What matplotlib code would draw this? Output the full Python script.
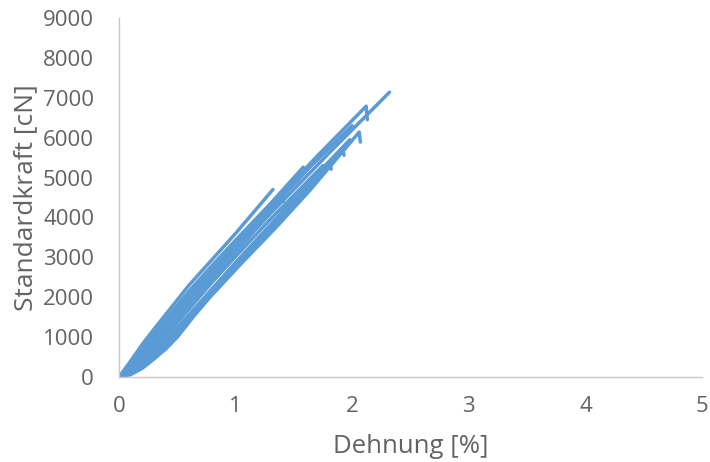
import matplotlib
matplotlib.use("Agg")
import matplotlib.pyplot as plt

# ---- data ----
x_ticks = [0, 1, 2, 3, 4, 5]
y_ticks = [0, 1000, 2000, 3000, 4000, 5000, 6000, 7000, 8000, 9000]

strain_A = [0, 0.1, 0.2, 0.3, 0.45, 0.6, 0.8, 1.0, 1.32]
force_A = [0, 400, 820, 1200, 1750, 2300, 2950, 3600, 4700]

strain_B = [0, 0.1, 0.2, 0.3, 0.45, 0.6, 0.8, 1.0, 1.3, 1.58]
force_B = [0, 330, 720, 1080, 1620, 2150, 2800, 3430, 4350, 5260]

strain_C = [0, 0.1, 0.2, 0.3, 0.45, 0.6, 0.8, 1.0, 1.3, 1.7, 2.12, 2.13]
force_C = [0, 280, 640, 1000, 1530, 2050, 2700, 3330, 4300, 5540, 6790, 6450]

strain_D = [0, 0.1, 0.2, 0.3, 0.45, 0.6, 0.8, 1.0, 1.3, 1.8, 2.32]
force_D = [0, 200, 500, 850, 1380, 1900, 2550, 3170, 4100, 5610, 7140]

strain_E = [0, 0.1, 0.2, 0.3, 0.4, 0.5, 0.635, 0.78, 1.06, 1.35, 1.64, 2.06, 2.07]
force_E = [0, 60, 220, 450, 700, 1000, 1500, 2000, 2880, 3760, 4690, 6140, 5890]

strain_F = [0, 0.1, 0.2, 0.3, 0.4, 0.5, 0.65, 0.8, 1.05, 1.35, 1.65, 1.92, 1.93]
force_F = [0, 90, 280, 530, 800, 1100, 1600, 2100, 2930, 3850, 4800, 5690, 5560]

strain_G = [0, 0.1, 0.2, 0.3, 0.4, 0.5, 0.65, 0.8, 1.05, 1.35, 1.6, 1.81, 1.82]
force_G = [0, 120, 330, 600, 880, 1190, 1680, 2170, 2990, 3950, 4740, 5360, 5210]

strain_H = [0, 0.1, 0.2, 0.3, 0.45, 0.6, 0.8, 1.0, 1.2, 1.40, 1.41]
force_H = [0, 180, 450, 780, 1300, 1820, 2480, 3120, 3800, 4510, 4400]

strain_I = [0, 0.1, 0.2, 0.3, 0.45, 0.6, 0.8, 1.0, 1.3, 1.75]
force_I = [0, 150, 400, 700, 1200, 1700, 2380, 3020, 3960, 5300]

strain_J = [0, 0.1, 0.2, 0.3, 0.45, 0.6, 0.8, 1.0, 1.3, 1.65, 1.98]
force_J = [0, 110, 320, 600, 1080, 1560, 2220, 2870, 3820, 4940, 5950]

strain_K = [0, 0.1, 0.2, 0.3, 0.45, 0.6, 0.8, 1.0, 1.3, 1.65, 2.0]
force_K = [0, 240, 560, 900, 1420, 1950, 2600, 3250, 4200, 5300, 6300]

strain_L = [0, 0.1, 0.2, 0.3, 0.45, 0.6, 0.8, 1.0, 1.3, 1.55]
force_L = [0, 260, 600, 950, 1480, 2000, 2650, 3280, 4230, 5000]

curves = [
    (strain_A, force_A), (strain_B, force_B), (strain_C, force_C),
    (strain_D, force_D), (strain_E, force_E), (strain_F, force_F),
    (strain_G, force_G), (strain_H, force_H), (strain_I, force_I),
    (strain_J, force_J), (strain_K, force_K), (strain_L, force_L),
]

# ---- style ----
plt.rcParams['font.family'] = ['Open Sans', 'DejaVu Sans']
line_color = '#5B9BD5'
text_color = '#636363'
axis_color = '#C8C8C8'

fig = plt.figure(figsize=(7.10, 4.62), dpi=100)
ax = fig.add_axes([119 / 710, 1 - 377 / 462, (702 - 119) / 710, (377 - 18) / 462])

for sx, fy in curves:
    ax.plot(sx, fy, color=line_color, linewidth=2.5,
            solid_capstyle='round', solid_joinstyle='round')

ax.set_xlim(0, 5)
ax.set_ylim(0, 9000)
ax.set_xticks(x_ticks)
ax.set_yticks(y_ticks)
ax.set_xticklabels([str(v) for v in x_ticks])
ax.set_yticklabels([str(v) for v in y_ticks])

for s in ['top', 'right']:
    ax.spines[s].set_visible(False)
for s in ['left', 'bottom']:
    ax.spines[s].set_color(axis_color)
    ax.spines[s].set_linewidth(1.0)

ax.tick_params(axis='both', length=0, colors=text_color, labelsize=16)
ax.tick_params(axis='x', pad=14)
ax.tick_params(axis='y', pad=18)

ax.set_xlabel('Dehnung [%]', fontsize=18.5, color=text_color)
ax.set_ylabel('Standardkraft [cN]', fontsize=19, color=text_color)
ax.xaxis.label.set_va('baseline')
ax.yaxis.label.set_va('baseline')
ax.xaxis.set_label_coords(0.5, (377 - 453) / 359)
ax.yaxis.set_label_coords((32 - 119) / 583, 0.5)

fig.savefig('out.png', dpi=100)
